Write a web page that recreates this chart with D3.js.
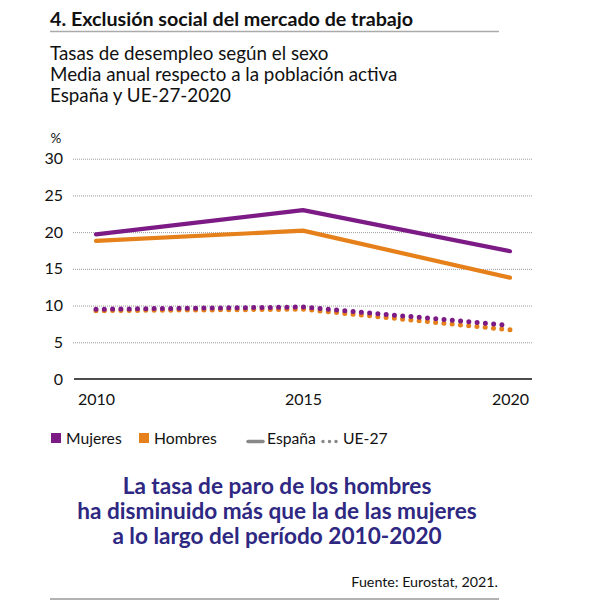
<!DOCTYPE html>
<html lang="es">
  <head>
    <meta charset="utf-8">
    <title>Tasas de desempleo según el sexo</title>
    <style type="text/css">
      body{
        margin: 0;
        background-color: white;
      }
      svg{
        display: block;
        font-family: Lato, "Open Sans", sans-serif;
      }
      .grid line{
        stroke: #9a9a9a;
        stroke-dasharray: 1,1;
      }
    </style>
  </head>
  <body>
    <div id='svg_container'></div>

    <script src="https://d3js.org/d3.v7.min.js"></script>
    <script type="text/javascript">

      const years = [2010, 2015, 2020];
      const yTicks = [0, 5, 10, 15, 20, 25, 30];

      const espanaMujeres = [19.7, 23.0, 17.4];
      const espanaHombres = [18.8, 20.2, 13.8];
      const ueMujeres = [9.5, 9.8, 7.3];
      const ueHombres = [9.3, 9.5, 6.7];

      const sexLegend = ['Mujeres', 'Hombres'];
      const styleLegend = ['España', 'UE-27'];

      const purple = '#7d1b86';
      const orange = '#e5801a';
      const navy = '#2e2882';

      const w = 604;
      const h = 600;

      var svg = d3.select('#svg_container').append('svg').attr('width', w).attr('height', h);

      // header
      svg.append('text').text('4. Exclusión social del mercado de trabajo')
          .attr('x', 50).attr('y', 26).style('font-size', '19.7px').style('font-weight', 'bold').style('fill', '#111');
      svg.append('line').attr('x1', 50).attr('x2', 499).attr('y1', 31.5).attr('y2', 31.5)
          .style('stroke', '#aaa').style('stroke-width', 1.5);

      var subs = ['Tasas de desempleo según el sexo', 'Media anual respecto a la población activa', 'España y UE-27-2020'];
      svg.selectAll('.sub').data(subs).enter().append('text').attr('class', 'sub')
          .text(d => d).attr('x', 50).attr('y', (d, i) => 60 + i * 21)
          .style('font-size', '18.8px').style('fill', '#111');

      // scales
      var scaleX = d3.scaleLinear().domain([2010, 2020]).range([96, 510]);
      var scaleY = d3.scaleLinear().domain([0, 30]).range([379, 158.7]);

      var yAxis = d3.axisLeft(scaleY).tickValues(yTicks).tickSize(-460).tickPadding(10);
      var gy = svg.append('g').attr('class', 'grid').attr('transform', 'translate(73,0)').call(yAxis);
      gy.select('.domain').remove();
      gy.selectAll('line').filter(d => d === 0).remove();
      gy.selectAll('text').style('font-size', '16px').style('fill', '#111').style('font-family', 'Lato, sans-serif');

      svg.append('text').text('%').attr('x', 56).attr('y', 143).attr('text-anchor', 'middle')
          .style('font-size', '13.5px').style('fill', '#111');

      var xAxis = d3.axisBottom(scaleX).tickValues(years).tickFormat(d3.format('d')).tickSize(0).tickPadding(15);
      var gx = svg.append('g').attr('transform', 'translate(0,379)').call(xAxis);
      gx.select('.domain').remove();
      gx.selectAll('text').style('font-size', '16px').style('fill', '#111').style('font-family', 'Lato, sans-serif');

      svg.append('line').attr('x1', 74).attr('x2', 532).attr('y1', scaleY(0)).attr('y2', scaleY(0))
          .style('stroke', '#111').style('stroke-width', 1.5);

      // lines
      var line = d3.line().x((d, i) => scaleX(years[i])).y(d => scaleY(d));

      var series = [
        {vals: espanaHombres, color: orange, dotted: false},
        {vals: espanaMujeres, color: purple, dotted: false},
        {vals: ueHombres, color: orange, dotted: true},
        {vals: ueMujeres, color: purple, dotted: true}
      ];

      svg.selectAll('.serie').data(series).enter().append('path').attr('class', 'serie')
          .attr('d', d => line(d.vals)).attr('fill', 'none').attr('stroke', d => d.color)
          .attr('stroke-width', d => d.dotted ? 5 : 4.2)
          .attr('stroke-linecap', 'round').attr('stroke-linejoin', 'round')
          .attr('stroke-dasharray', d => d.dotted ? '0,8.3' : null);

      // legend
      var leg = svg.append('g');
      var sexX = [51, 139];
      var sexColors = [purple, orange];
      sexLegend.forEach(function(s, i){
        leg.append('rect').attr('x', sexX[i]).attr('y', 433).attr('width', 10).attr('height', 10).attr('fill', sexColors[i]);
        leg.append('text').text(s).attr('x', sexX[i] + 15).attr('y', 443.5).style('font-size', '15.7px').style('fill', '#111');
      });
      leg.append('line').attr('x1', 248).attr('x2', 263).attr('y1', 441.5).attr('y2', 441.5)
          .attr('stroke', '#888').attr('stroke-width', 3.5).attr('stroke-linecap', 'round');
      leg.append('text').text(styleLegend[0]).attr('x', 267).attr('y', 443.5).style('font-size', '15.7px').style('fill', '#111');
      leg.append('line').attr('x1', 323).attr('x2', 339).attr('y1', 441.5).attr('y2', 441.5)
          .attr('stroke', '#888').attr('stroke-width', 3.5).attr('stroke-linecap', 'round').attr('stroke-dasharray', '0,6.5');
      leg.append('text').text(styleLegend[1]).attr('x', 343).attr('y', 443.5).style('font-size', '15.7px').style('fill', '#111');

      // conclusion
      var msg = ['La tasa de paro de los hombres', 'ha disminuido más que la de las mujeres', 'a lo largo del período 2010-2020'];
      svg.selectAll('.msg').data(msg).enter().append('text').attr('class', 'msg')
          .text(d => d).attr('x', 277).attr('y', (d, i) => 494 + i * 25).attr('text-anchor', 'middle')
          .style('font-size', '22.6px').style('font-weight', 'bold').style('fill', navy);

      svg.append('text').text('Fuente: Eurostat, 2021.').attr('x', 498).attr('y', 587).attr('text-anchor', 'end')
          .style('font-size', '14.3px').style('fill', '#111');
      svg.append('line').attr('x1', 50).attr('x2', 499).attr('y1', 599).attr('y2', 599)
          .style('stroke', '#999').style('stroke-width', 1.5);

    </script>
  </body>
</html>
